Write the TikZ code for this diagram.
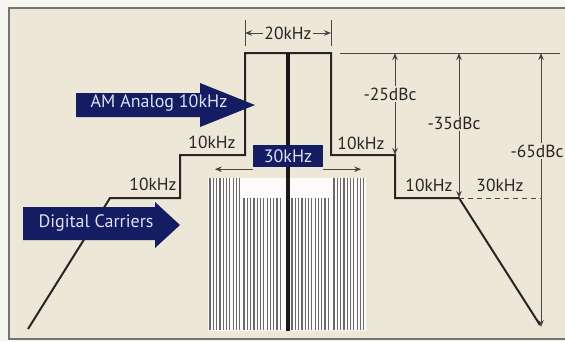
\documentclass[tikz,border=0pt]{standalone}
\usepackage{fontspec}
\setmainfont{PT Sans}
\usetikzlibrary{positioning, arrows.meta, calc}
\definecolor{paper}{RGB}{236,231,214}
\definecolor{margin}{RGB}{246,245,240}
\definecolor{navyarrow}{RGB}{20,28,98}
\definecolor{labelwhite}{RGB}{222,224,242}
\definecolor{dimgray}{RGB}{70,70,70}
\definecolor{bargray}{RGB}{105,105,105}
\tikzset{
mask/.style={
    draw=black!85,
    line width=2pt,
    line join=miter
},
dim/.style={
    draw=dimgray,
    line width=0.9pt,
    -{Stealth[length=7pt,width=5.5pt]}
},
lbl/.style={
    font=\fontsize{17.5}{19}\selectfont,
    inner sep=1pt,
    text=black!85
},
navylbl/.style={
    font=\fontsize{18}{20}\selectfont,
    inner sep=1pt,
    text=labelwhite
},
carrier/.style={
    draw=bargray,
    line width=1.2pt
}
}

\begin{document}
\begin{tikzpicture}[x=1pt, y=-1pt]
\useasboundingbox (0,0) rectangle (565,341);
\fill[margin] (0,0) rectangle (565,341);
\draw[fill=paper, draw=black!55, line width=1.3pt] (9,8) rectangle (572,339);

% CARRIERS
\fill[white!85!paper] (208,178) rectangle (366,331);
\foreach \x in {210,213.3,...,241} \draw[carrier] (\x,178) -- (\x,330);
\foreach \x in {244,247.3,...,282} \draw[carrier] (\x,198) -- (\x,330);
\foreach \x in {292,295.3,...,331} \draw[carrier] (\x,198) -- (\x,330);
\foreach \x in {334,337.3,...,366} \draw[carrier] (\x,178) -- (\x,330);

% MASK
\coordinate (m1) at (28,329);
\coordinate (m2) at (110,198);
\coordinate (m3) at (180,198);
\coordinate (m4) at (180,155);
\coordinate (m5) at (245,155);
\coordinate (m6) at (245,53);
\coordinate (m7) at (331,53);
\coordinate (m8) at (331,155);
\coordinate (m9) at (395,155);
\coordinate (m10) at (395,198);
\coordinate (m11) at (459,198);
\coordinate (m12) at (540,325);
\draw[mask] (m1) -- (m2) -- (m3) -- (m4) -- (m5) -- (m6) -- (m7)
    -- (m8) -- (m9) -- (m10) -- (m11) -- (m12);
\coordinate (ctop) at (288,53);
\coordinate (cbot) at (288,331);
\draw[black!90, line width=4.5pt] (ctop) -- (cbot);

% REFERENCE LINES
\coordinate (reftl) at (340,53);
\coordinate (reftr) at (560,53);
\draw[dimgray, line width=1pt] (reftl) -- (reftr);
\coordinate (dashend) at (541,198);
\draw[dimgray, dashed, line width=1pt, dash pattern=on 5pt off 4pt] (m11) -- (dashend);

% 20kHz
\node[lbl] (bw) at (288,33) {20kHz};
\draw[dimgray, line width=1pt] (245,20) coordinate (bwl) -- (245,46);
\draw[dimgray, line width=1pt] (331,20) coordinate (bwr) -- (331,46);
\draw[dim] (bw.west) -- (bw.west -| bwl);
\draw[dim] (bw.east) -- (bw.east -| bwr);

% dBc
\coordinate (t25) at (395,53);
\coordinate (b25) at (395,155);
\coordinate (t35) at (459,53);
\coordinate (b35) at (459,198);
\coordinate (t65) at (541,53);
\coordinate (b65) at (541,327);
\node[lbl] (d25) at (390,94) {-25dBc};
\node[lbl] (d35) at (454,123) {-35dBc};
\node[lbl] (d65) at (537,151) {-65dBc};
\draw[dim] (d25.north -| t25) -- (t25);
\draw[dim] (d25.south -| b25) -- (b25);
\draw[dim] (d35.north -| t35) -- (t35);
\draw[dim] (d35.south -| b35) -- (b35);
\draw[dim] (d65.north -| t65) -- (t65);
\draw[dim] (d65.south -| b65) -- (b65);

% STEP LABELS
\node[lbl] (ul) at (212,142) {10kHz};
\node[lbl] (ll) at (153,184) {10kHz};
\node[lbl] (ur) at (361,143) {10kHz};
\node[lbl] (lr) at (429,185) {10kHz};
\node[lbl] (far) at (500,185) {30kHz};

% BLUE ARROWS
\fill[navyarrow] (76,93) -- (200,93) -- (200,83) -- (255,105)
    -- (200,127) -- (200,117) -- (76,117) -- cycle;
\node[navylbl] (am) at (159,103) {AM Analog 10kHz};
\fill[navyarrow] (23,207) -- (155,207) -- (155,202) -- (180,225)
    -- (155,248) -- (155,240) -- (23,240) -- cycle;
\node[navylbl] (dig) at (96,223) {Digital Carriers};

% 30kHz BOX
\node[navylbl, fill=navyarrow, minimum width=70pt, minimum height=22pt] (cw) at (288,156) {30kHz};
\draw[dim] ($(cw.south west)+(0,2)$) -- ++(-38,0);
\draw[dim] ($(cw.south east)+(0,2)$) -- ++(38,0);

\end{tikzpicture}
\end{document}
